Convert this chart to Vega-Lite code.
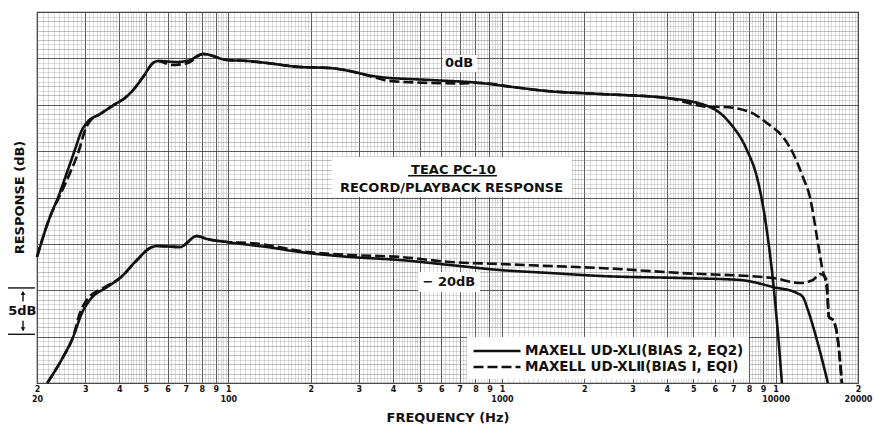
{
  "$schema": "https://vega.github.io/schema/vega-lite/v6.json",
  "width": 821,
  "height": 371,
  "autosize": {"type": "none"},
  "padding": {"left": 37, "top": 12, "right": 16, "bottom": 42},
  "background": "white",
  "config": {"view": {"stroke": "#333", "strokeWidth": 1.2}, "font": "DejaVu Sans"},
  "datasets": {
    "curves": [
      {"tape":"XLI","level":"0dB","f":20,"db":-16.4},{"tape":"XLI","level":"0dB","f":22.3,"db":-12.1},{"tape":"XLI","level":"0dB","f":23.9,"db":-9.95},{"tape":"XLI","level":"0dB","f":25.7,"db":-7.36},{"tape":"XLI","level":"0dB","f":27.5,"db":-4.88},{"tape":"XLI","level":"0dB","f":29.2,"db":-2.72},{"tape":"XLI","level":"0dB","f":30.6,"db":-1.85},{"tape":"XLI","level":"0dB","f":34.0,"db":-1.0},{"tape":"XLI","level":"0dB","f":39.2,"db":0.19},{"tape":"XLI","level":"0dB","f":41.9,"db":0.73},{"tape":"XLI","level":"0dB","f":44.9,"db":1.59},{"tape":"XLI","level":"0dB","f":48.8,"db":2.99},{"tape":"XLI","level":"0dB","f":53.1,"db":4.5},{"tape":"XLI","level":"0dB","f":55.3,"db":4.72},{"tape":"XLI","level":"0dB","f":65.0,"db":4.61},{"tape":"XLI","level":"0dB","f":72.4,"db":4.83},{"tape":"XLI","level":"0dB","f":80.8,"db":5.47},{"tape":"XLI","level":"0dB","f":98.9,"db":4.83},{"tape":"XLI","level":"0dB","f":117,"db":4.72},{"tape":"XLI","level":"0dB","f":138.5,"db":4.5},{"tape":"XLI","level":"0dB","f":183,"db":4.07},{"tape":"XLI","level":"0dB","f":235,"db":3.96},{"tape":"XLI","level":"0dB","f":358,"db":2.99},{"tape":"XLI","level":"0dB","f":546,"db":2.67},{"tape":"XLI","level":"0dB","f":831,"db":2.35},{"tape":"XLI","level":"0dB","f":1097,"db":1.91},{"tape":"XLI","level":"0dB","f":1460,"db":1.48},{"tape":"XLI","level":"0dB","f":2280,"db":1.16},{"tape":"XLI","level":"0dB","f":4008,"db":0.73},{"tape":"XLI","level":"0dB","f":5750,"db":-0.24},{"tape":"XLI","level":"0dB","f":6808,"db":-1.97},{"tape":"XLI","level":"0dB","f":7854,"db":-4.88},{"tape":"XLI","level":"0dB","f":8544,"db":-7.79},{"tape":"XLI","level":"0dB","f":8912,"db":-10.27},{"tape":"XLI","level":"0dB","f":9318,"db":-13.86},{"tape":"XLI","level":"0dB","f":9776,"db":-18.89},{"tape":"XLI","level":"0dB","f":10196,"db":-24.61},{"tape":"XLI","level":"0dB","f":10544,"db":-30},
      {"tape":"XLII","level":"0dB","f":20,"db":-16.4},{"tape":"XLII","level":"0dB","f":22.3,"db":-12.1},{"tape":"XLII","level":"0dB","f":24.1,"db":-9.95},{"tape":"XLII","level":"0dB","f":26.4,"db":-7.36},{"tape":"XLII","level":"0dB","f":28.5,"db":-4.88},{"tape":"XLII","level":"0dB","f":29.9,"db":-2.83},{"tape":"XLII","level":"0dB","f":31.0,"db":-1.9},{"tape":"XLII","level":"0dB","f":34.0,"db":-1.0},{"tape":"XLII","level":"0dB","f":39.2,"db":0.19},{"tape":"XLII","level":"0dB","f":41.9,"db":0.73},{"tape":"XLII","level":"0dB","f":44.9,"db":1.59},{"tape":"XLII","level":"0dB","f":48.8,"db":2.99},{"tape":"XLII","level":"0dB","f":53.1,"db":4.5},{"tape":"XLII","level":"0dB","f":55.3,"db":4.72},{"tape":"XLII","level":"0dB","f":62.3,"db":4.29},{"tape":"XLII","level":"0dB","f":71.2,"db":4.5},{"tape":"XLII","level":"0dB","f":80.8,"db":5.47},{"tape":"XLII","level":"0dB","f":98.9,"db":4.83},{"tape":"XLII","level":"0dB","f":117,"db":4.72},{"tape":"XLII","level":"0dB","f":138.5,"db":4.5},{"tape":"XLII","level":"0dB","f":183,"db":4.07},{"tape":"XLII","level":"0dB","f":235,"db":3.96},{"tape":"XLII","level":"0dB","f":358,"db":2.8},{"tape":"XLII","level":"0dB","f":380,"db":2.6},{"tape":"XLII","level":"0dB","f":546,"db":2.35},{"tape":"XLII","level":"0dB","f":685,"db":2.3},{"tape":"XLII","level":"0dB","f":831,"db":2.35},{"tape":"XLII","level":"0dB","f":1097,"db":1.91},{"tape":"XLII","level":"0dB","f":1460,"db":1.48},{"tape":"XLII","level":"0dB","f":2280,"db":1.16},{"tape":"XLII","level":"0dB","f":4008,"db":0.73},{"tape":"XLII","level":"0dB","f":5750,"db":-0.24},{"tape":"XLII","level":"0dB","f":6418,"db":-0.24},{"tape":"XLII","level":"0dB","f":8054,"db":-0.78},{"tape":"XLII","level":"0dB","f":9294,"db":-1.97},{"tape":"XLII","level":"0dB","f":10634,"db":-3.48},{"tape":"XLII","level":"0dB","f":11566,"db":-5.2},{"tape":"XLII","level":"0dB","f":12580,"db":-7.79},{"tape":"XLII","level":"0dB","f":13346,"db":-9.95},{"tape":"XLII","level":"0dB","f":14276,"db":-14.91},{"tape":"XLII","level":"0dB","f":14766,"db":-17.49},{"tape":"XLII","level":"0dB","f":15398,"db":-19.97},{"tape":"XLII","level":"0dB","f":15658,"db":-22.88},{"tape":"XLII","level":"0dB","f":16194,"db":-23.21},{"tape":"XLII","level":"0dB","f":16748,"db":-24.61},{"tape":"XLII","level":"0dB","f":17468,"db":-30},
      {"tape":"XLI","level":"-20dB","f":21.8,"db":-30},{"tape":"XLI","level":"-20dB","f":24.9,"db":-27.2},{"tape":"XLI","level":"-20dB","f":27.1,"db":-25.04},{"tape":"XLI","level":"-20dB","f":29.2,"db":-22.45},{"tape":"XLI","level":"-20dB","f":31.2,"db":-21.05},{"tape":"XLI","level":"-20dB","f":36.1,"db":-19.65},{"tape":"XLI","level":"-20dB","f":40.2,"db":-18.68},{"tape":"XLI","level":"-20dB","f":46.4,"db":-16.74},{"tape":"XLI","level":"-20dB","f":51.8,"db":-15.44},{"tape":"XLI","level":"-20dB","f":54.9,"db":-15.23},{"tape":"XLI","level":"-20dB","f":66.6,"db":-15.34},{"tape":"XLI","level":"-20dB","f":76.8,"db":-14.15},{"tape":"XLI","level":"-20dB","f":83.6,"db":-14.47},{"tape":"XLI","level":"-20dB","f":98.9,"db":-14.8},{"tape":"XLI","level":"-20dB","f":120,"db":-15.12},{"tape":"XLI","level":"-20dB","f":138.5,"db":-15.34},{"tape":"XLI","level":"-20dB","f":183,"db":-15.88},{"tape":"XLI","level":"-20dB","f":278,"db":-16.41},{"tape":"XLI","level":"-20dB","f":424,"db":-16.74},{"tape":"XLI","level":"-20dB","f":646,"db":-17.28},{"tape":"XLI","level":"-20dB","f":983,"db":-17.82},{"tape":"XLI","level":"-20dB","f":1498,"db":-18.14},{"tape":"XLI","level":"-20dB","f":2280,"db":-18.46},{"tape":"XLI","level":"-20dB","f":4472,"db":-18.68},{"tape":"XLI","level":"-20dB","f":7406,"db":-18.89},{"tape":"XLI","level":"-20dB","f":9776,"db":-19.65},{"tape":"XLI","level":"-20dB","f":11964,"db":-20.3},{"tape":"XLI","level":"-20dB","f":12580,"db":-20.73},{"tape":"XLI","level":"-20dB","f":13122,"db":-22.13},{"tape":"XLI","level":"-20dB","f":14154,"db":-25.36},{"tape":"XLI","level":"-20dB","f":15524,"db":-30},
      {"tape":"XLII","level":"-20dB","f":21.8,"db":-30},{"tape":"XLII","level":"-20dB","f":24.9,"db":-27.2},{"tape":"XLII","level":"-20dB","f":27.1,"db":-25.04},{"tape":"XLII","level":"-20dB","f":28.7,"db":-22.45},{"tape":"XLII","level":"-20dB","f":30.4,"db":-21.05},{"tape":"XLII","level":"-20dB","f":35.4,"db":-19.65},{"tape":"XLII","level":"-20dB","f":40.2,"db":-18.68},{"tape":"XLII","level":"-20dB","f":46.4,"db":-16.74},{"tape":"XLII","level":"-20dB","f":51.8,"db":-15.44},{"tape":"XLII","level":"-20dB","f":54.9,"db":-15.23},{"tape":"XLII","level":"-20dB","f":66.6,"db":-15.34},{"tape":"XLII","level":"-20dB","f":76.8,"db":-14.15},{"tape":"XLII","level":"-20dB","f":83.6,"db":-14.47},{"tape":"XLII","level":"-20dB","f":98.9,"db":-14.8},{"tape":"XLII","level":"-20dB","f":120,"db":-14.91},{"tape":"XLII","level":"-20dB","f":138.5,"db":-15.12},{"tape":"XLII","level":"-20dB","f":183,"db":-15.77},{"tape":"XLII","level":"-20dB","f":278,"db":-16.2},{"tape":"XLII","level":"-20dB","f":424,"db":-16.41},{"tape":"XLII","level":"-20dB","f":646,"db":-16.95},{"tape":"XLII","level":"-20dB","f":983,"db":-17.17},{"tape":"XLII","level":"-20dB","f":1498,"db":-17.39},{"tape":"XLII","level":"-20dB","f":2280,"db":-17.6},{"tape":"XLII","level":"-20dB","f":4472,"db":-18.14},{"tape":"XLII","level":"-20dB","f":9776,"db":-18.68},{"tape":"XLII","level":"-20dB","f":12266,"db":-19.22},{"tape":"XLII","level":"-20dB","f":13686,"db":-18.89},{"tape":"XLII","level":"-20dB","f":14518,"db":-18.25},{"tape":"XLII","level":"-20dB","f":15398,"db":-18.89},{"tape":"XLII","level":"-20dB","f":15524,"db":-21.05},{"tape":"XLII","level":"-20dB","f":15658,"db":-22.88},{"tape":"XLII","level":"-20dB","f":16194,"db":-23.21},{"tape":"XLII","level":"-20dB","f":16748,"db":-24.61},{"tape":"XLII","level":"-20dB","f":17468,"db":-30}
    ],
    "boxes": [
      {"f":609,"f2":810,"db":3.53,"db2":5.36},
      {"f":239,"f2":1802,"db":-9.95,"db2":-5.63},
      {"f":493,"f2":831,"db":-20.19,"db2":-18.03}
    ],
    "labels": [
      {"label":"0dB","f":697,"db":4.5},
      {"label":"TEAC PC-10","f":665,"db":-7.0},
      {"label":"RECORD/PLAYBACK RESPONSE","f":654,"db":-9.01},
      {"label":"− 20dB","f":640,"db":-19.08},
      {"label":"5dB","f":17.67,"db":-22.25}
    ],
    "rules": [
      {"f":454,"f2":959,"db":-7.65,"db2":-7.65},
      {"f":15.67,"f2":19.66,"db":-19.75,"db2":-19.75},
      {"f":15.67,"f2":19.66,"db":-24.75,"db2":-24.75},
      {"f":17.78,"f2":17.78,"db":-20.2,"db2":-21.2},
      {"f":17.78,"f2":17.78,"db":-23.3,"db2":-24.3}
    ],
    "arrows": [
      {"dir":"up","f":17.78,"db":-20.3},
      {"dir":"down","f":17.78,"db":-24.2}
    ]
  },
  "encoding": {
    "x": {
      "field": "f", "type": "quantitative",
      "scale": {"type": "log", "domain": [20, 20000], "nice": false},
      "axis": {
        "title": "FREQUENCY (Hz)",
        "titleFont": "DejaVu Sans", "titleFontWeight": "bold", "titleFontSize": 13, "titleColor": "#111",
        "titleY": 34, "titleBaseline": "middle",
        "values": [20,21,22,23,24,25,26,27,28,29,30,31,32,33,34,35,36,37,38,39,40,41,42,43,44,45,46,47,48,49,50,52,54,56,58,60,62,64,66,68,70,72,74,76,78,80,82,84,86,88,90,92,94,96,98,100,105,110,115,120,125,130,135,140,145,150,155,160,165,170,175,180,185,190,195,200,210,220,230,240,250,260,270,280,290,300,310,320,330,340,350,360,370,380,390,400,410,420,430,440,450,460,470,480,490,500,520,540,560,580,600,620,640,660,680,700,720,740,760,780,800,820,840,860,880,900,920,940,960,980,1000,1050,1100,1150,1200,1250,1300,1350,1400,1450,1500,1550,1600,1650,1700,1750,1800,1850,1900,1950,2000,2100,2200,2300,2400,2500,2600,2700,2800,2900,3000,3100,3200,3300,3400,3500,3600,3700,3800,3900,4000,4100,4200,4300,4400,4500,4600,4700,4800,4900,5000,5200,5400,5600,5800,6000,6200,6400,6600,6800,7000,7200,7400,7600,7800,8000,8200,8400,8600,8800,9000,9200,9400,9600,9800,10000,10500,11000,11500,12000,12500,13000,13500,14000,14500,15000,15500,16000,16500,17000,17500,18000,18500,19000,19500,20000],
        "grid": true,
        "gridColor": {"condition": {"test": "abs(datum.value / pow(10, floor(log(datum.value) / LN10 + 1e-9)) - round(datum.value / pow(10, floor(log(datum.value) / LN10 + 1e-9)))) < 1e-6", "value": "#4a4a4a"}, "value": "#8a8a8a"},
        "gridOpacity": {"condition": {"test": "abs(datum.value / pow(10, floor(log(datum.value) / LN10 + 1e-9)) - round(datum.value / pow(10, floor(log(datum.value) / LN10 + 1e-9)))) < 1e-6", "value": 0.9}, "value": 0.5},
        "gridWidth": {"condition": {"test": "abs(datum.value / pow(10, floor(log(datum.value) / LN10 + 1e-9)) - round(datum.value / pow(10, floor(log(datum.value) / LN10 + 1e-9)))) < 1e-6", "value": 1}, "value": 0.6},
        "ticks": false, "domain": false,
        "labelExpr": "(abs(datum.value / pow(10, floor(log(datum.value) / LN10 + 1e-9)) - round(datum.value / pow(10, floor(log(datum.value) / LN10 + 1e-9)))) > 1e-6) ? '' : (datum.value == 20 ? ['2', '20'] : (datum.value == 100 || datum.value == 1000 || datum.value == 10000) ? ['1', '' + datum.value] : datum.value == 20000 ? ['2', '20000'] : '' + round(datum.value / pow(10, floor(log(datum.value) / LN10 + 1e-9))))",
        "labelOverlap": false, "labelFlush": false, "labelBound": false,
        "labelFont": "DejaVu Sans", "labelFontWeight": "bold", "labelFontSize": 8, "labelColor": "#111",
        "labelPadding": 2, "labelLineHeight": 10
      }
    },
    "y": {
      "field": "db", "type": "quantitative",
      "scale": {"domain": [-30, 10], "nice": false, "zero": false},
      "axis": {
        "title": "RESPONSE (dB)",
        "titleFont": "DejaVu Sans", "titleFontWeight": "bold", "titleFontSize": 13, "titleColor": "#111",
        "titleX": -18, "titleY": 185, "titleAngle": 270, "titleAlign": "center", "titleBaseline": "middle",
        "values": [-30,-29.5,-29,-28.5,-28,-27.5,-27,-26.5,-26,-25.5,-25,-24.5,-24,-23.5,-23,-22.5,-22,-21.5,-21,-20.5,-20,-19.5,-19,-18.5,-18,-17.5,-17,-16.5,-16,-15.5,-15,-14.5,-14,-13.5,-13,-12.5,-12,-11.5,-11,-10.5,-10,-9.5,-9,-8.5,-8,-7.5,-7,-6.5,-6,-5.5,-5,-4.5,-4,-3.5,-3,-2.5,-2,-1.5,-1,-0.5,0,0.5,1,1.5,2,2.5,3,3.5,4,4.5,5,5.5,6,6.5,7,7.5,8,8.5,9,9.5,10],
        "grid": true,
        "gridColor": {"condition": {"test": "datum.value % 5 === 0", "value": "#4a4a4a"}, "value": "#8a8a8a"},
        "gridOpacity": {"condition": {"test": "datum.value % 1 === 0", "value": 0.9}, "value": 0.5},
        "gridWidth": {"condition": {"test": "datum.value % 5 === 0", "value": 1.1}, "value": 0.6},
        "labels": false, "ticks": false, "domain": false
      }
    }
  },
  "layer": [
    {
      "data": {"name": "boxes"},
      "mark": {"type": "rect", "fill": "white", "stroke": null},
      "encoding": {"x2": {"field": "f2"}, "y2": {"field": "db2"}}
    },
    {
      "data": {"name": "curves"},
      "mark": {"type": "line", "color": "#111", "strokeWidth": 2.6, "interpolate": "monotone", "strokeCap": "butt"},
      "encoding": {
        "detail": {"field": "level", "type": "nominal"},
        "strokeDash": {
          "field": "tape", "type": "nominal",
          "scale": {"domain": ["XLI", "XLII"], "range": [[1, 0], [10, 4]]},
          "legend": {
            "title": null, "orient": "none", "legendX": 430, "legendY": 325,
            "fillColor": "white", "padding": 5,
            "symbolType": "M-1,0H5.27", "symbolSize": 225, "symbolStrokeWidth": 2.4, "symbolStrokeColor": "#111", "symbolFillColor": "transparent",
            "labelExpr": "datum.value == 'XLI' ? 'MAXELL UD-XLⅠ(BIAS 2, EQ2)' : 'MAXELL UD-XLⅡ(BIAS I, EQI)'",
            "labelFont": "DejaVu Sans", "labelFontWeight": "bold", "labelFontSize": 13.5, "labelColor": "#111",
            "labelLimit": 400, "rowPadding": 0, "labelOffset": 35
          }
        }
      }
    },
    {
      "data": {"name": "labels"},
      "mark": {"type": "text", "font": "DejaVu Sans", "fontWeight": "bold", "fontSize": 13, "color": "#111", "align": "center", "baseline": "middle"},
      "encoding": {"text": {"field": "label"}}
    },
    {
      "data": {"name": "rules"},
      "mark": {"type": "rule", "color": "#111", "strokeWidth": 1.4},
      "encoding": {"x2": {"field": "f2"}, "y2": {"field": "db2"}}
    },
    {
      "data": {"name": "arrows"},
      "mark": {"type": "point", "filled": true, "color": "#111", "size": 22, "opacity": 1},
      "encoding": {
        "shape": {"field": "dir", "type": "nominal", "scale": {"domain": ["up", "down"], "range": ["triangle-up", "triangle-down"]}, "legend": null}
      }
    }
  ]
}
